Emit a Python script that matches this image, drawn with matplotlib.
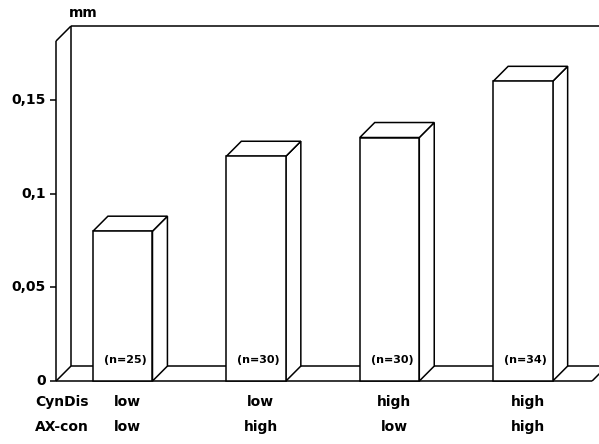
import matplotlib
matplotlib.use("Agg")
import matplotlib.pyplot as plt
from matplotlib.patches import Polygon

# Werte aus der Abbildung (mm)
cyndis = ["low", "low", "high", "high"]
axcon = ["low", "high", "low", "high"]
values = [0.08, 0.12, 0.13, 0.16]
n_labels = ["(n=25)", "(n=30)", "(n=30)", "(n=34)"]
yticks = [0, 0.05, 0.1, 0.15]
ytick_labels = ["0", "0,05", "0,1", "0,15"]

# 3D-Optik
w = 0.446       # Balkenbreite
dx = 0.112      # Tiefe x
dy = 0.008      # Tiefe y
wall_top = 0.1815
x0 = -0.5
x_end = 3.518

fig = plt.figure(figsize=(5.99, 4.44), dpi=100)
ax = fig.add_axes([0, 0, 1, 1])
ax.set_xlim(-0.920, 3.570)
ax.set_ylim(-0.0336, 0.2034)
ax.axis("off")

lk = dict(color="black", lw=1.1, solid_capstyle="butt")

# Rueckwand und Seitenwand
ax.plot([x0, x0], [0, wall_top], **lk)
ax.plot([x0, x0 + dx], [wall_top, wall_top + dy], **lk)
ax.plot([x0 + dx, x0 + dx], [dy, wall_top + dy], **lk)
ax.plot([x0 + dx, 3.570], [wall_top + dy, wall_top + dy], **lk)

# Boden
ax.plot([x0, x_end], [0, 0], **lk)
ax.plot([x0 + dx, 3.570], [dy, dy], **lk)
ax.plot([x0, x0 + dx], [0, dy], **lk)
ax.plot([x_end, x_end + dx], [0, dy], **lk)

# Achsenstriche und Beschriftung
font = dict(family="DejaVu Sans", fontweight="bold", fontsize=10)
for t, lab in zip(yticks, ytick_labels):
    ax.plot([x0 - 0.045, x0], [t, t], **lk)
    ax.text(x0 - 0.075, t, lab, ha="right", va="center", **font)
ax.text(-0.298, 0.1965, "mm", ha="center", va="center", **font)

# Balken
for i, v in enumerate(values):
    l = i - w / 2
    r = i + w / 2
    side = [(r, 0), (r + dx, dy), (r + dx, v + dy), (r, v)]
    top = [(l, v), (r, v), (r + dx, v + dy), (l + dx, v + dy)]
    front = [(l, 0), (r, 0), (r, v), (l, v)]
    for pts in (side, top, front):
        ax.add_patch(Polygon(pts, closed=True, facecolor="white",
                             edgecolor="black", lw=1.1, zorder=3))
    ax.text(i + 0.02, 0.011, n_labels[i], ha="center", va="center",
            zorder=4, family="DejaVu Sans", fontweight="bold", fontsize=8)
    ax.text(i + 0.035, -0.0112, cyndis[i], ha="center", va="center", **font)
    ax.text(i + 0.035, -0.0246, axcon[i], ha="center", va="center", **font)

ax.text(-0.658, -0.0112, "CynDis", ha="left", va="center", **font)
ax.text(-0.658, -0.0246, "AX-con", ha="left", va="center", **font)

fig.savefig("out.png", dpi=100)
